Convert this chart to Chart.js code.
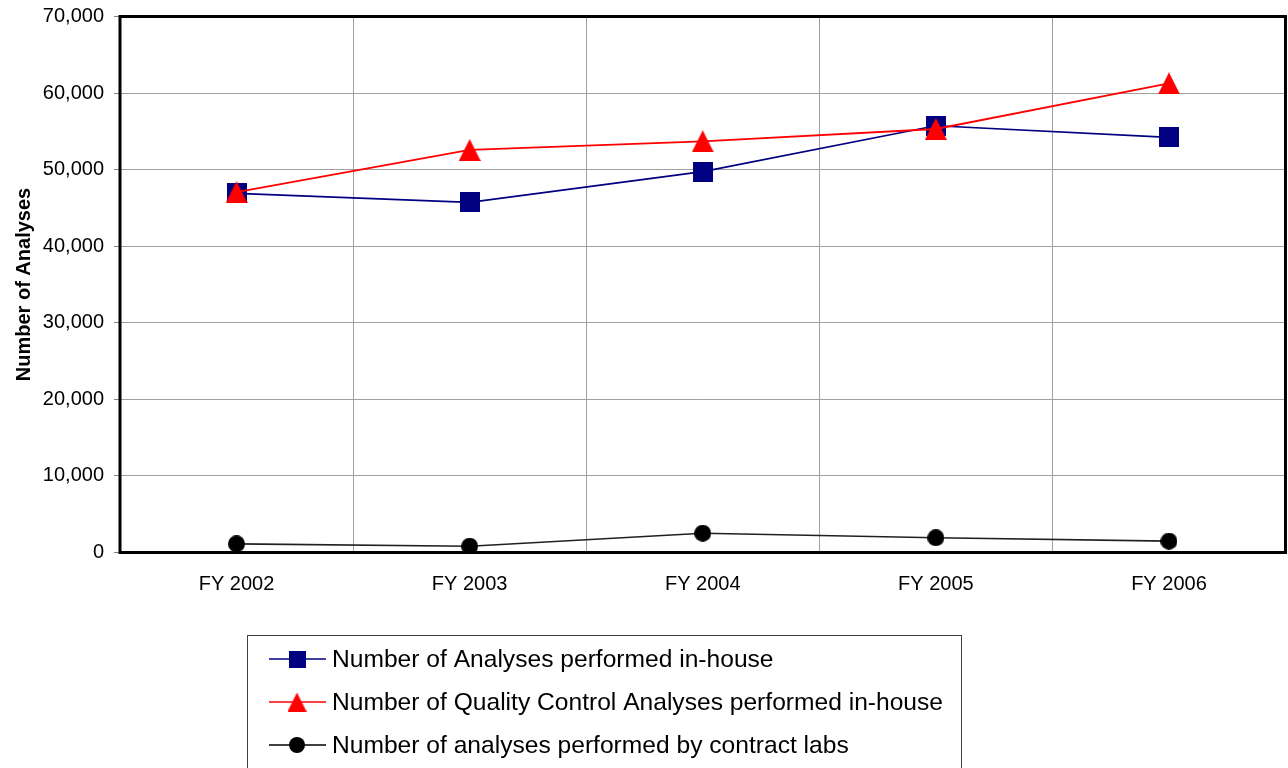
<!DOCTYPE html>
<html>
<head>
<meta charset="utf-8">
<script src="https://cdn.jsdelivr.net/npm/chart.js@4/dist/chart.umd.min.js"></script>
<style>
  html, body { margin: 0; padding: 0; background: #fff; overflow: hidden; }
  #wrap { width: 1288px; height: 768px; }
  canvas { display: block; }
</style>
</head>
<body>
<div id="wrap"><canvas id="c" width="1288" height="768"></canvas></div>
<script>
const categories = ['FY 2002', 'FY 2003', 'FY 2004', 'FY 2005', 'FY 2006'];
const inHouse = [46900, 45730, 49740, 55740, 54220];
const qcInHouse = [47050, 52570, 53700, 55310, 61270];
const contractLabs = [1130, 820, 2520, 1920, 1480];
const seriesNames = [
  'Number of Analyses performed in-house',
  'Number of Quality Control Analyses performed in-house',
  'Number of analyses performed by contract labs'
];
const yTicks = [0, 10000, 20000, 30000, 40000, 50000, 60000, 70000];
const yTitle = 'Number of Analyses';

function makeMarker(kind, size, color) {
  const c = document.createElement('canvas');
  c.width = size; c.height = size;
  const g = c.getContext('2d');
  g.fillStyle = color;
  if (kind === 'square') {
    g.fillRect(0, 0, size, size);
  } else if (kind === 'triangle') {
    g.beginPath();
    g.moveTo(size / 2, 0);
    g.lineTo(size, size);
    g.lineTo(0, size);
    g.closePath();
    g.fill();
  } else {
    g.beginPath();
    g.arc(size / 2, size / 2, size / 2, 0, Math.PI * 2);
    g.fill();
  }
  return c;
}

const BLUE = '#000080', RED = '#FF0000', BLACK = '#000000';
const mSquare = makeMarker('square', 20, BLUE);
const mTri = makeMarker('triangle', 22, RED);
const mCircle = makeMarker('circle', 17, BLACK);
const lSquare = makeMarker('square', 17, BLUE);
const lTri = makeMarker('triangle', 19, RED);
const lCircle = makeMarker('circle', 16, BLACK);

const frame = {
  id: 'frame',
  beforeDatasetsDraw(chart) {
    const {ctx, chartArea: a} = chart;
    ctx.save();
    ctx.strokeStyle = '#000';
    ctx.lineWidth = 3;
    ctx.strokeRect(a.left, a.top, a.right - a.left, a.bottom - a.top);
    ctx.restore();
  }
};

const legendBox = {
  id: 'legendBox',
  afterDraw(chart) {
    const ctx = chart.ctx;
    ctx.save();
    ctx.strokeStyle = '#404040';
    ctx.lineWidth = 1;
    ctx.strokeRect(247.5, 635.5, 714, 200);
    const rows = [
      {y: 659, color: BLUE, img: lSquare, w: 1.5},
      {y: 702, color: RED, img: lTri, w: 1.5},
      {y: 745, color: BLACK, img: lCircle, w: 1.5}
    ];
    ctx.font = '24.6px "Liberation Sans", Arial, sans-serif';
    ctx.textBaseline = 'middle';
    ctx.textAlign = 'left';
    rows.forEach((r, i) => {
      ctx.strokeStyle = r.color;
      ctx.lineWidth = r.w;
      ctx.beginPath();
      ctx.moveTo(269, r.y);
      ctx.lineTo(326, r.y);
      ctx.stroke();
      ctx.drawImage(r.img, 297 - r.img.width / 2, r.y - r.img.height / 2);
      ctx.fillStyle = '#000';
      ctx.fillText(seriesNames[i], 332, r.y + 1);
    });
    ctx.restore();
  }
};

new Chart(document.getElementById('c'), {
  type: 'line',
  data: {
    labels: categories,
    datasets: [
      {label: seriesNames[0], data: inHouse, borderColor: BLUE, borderWidth: 1.6,
       pointStyle: mSquare, order: 1, tension: 0},
      {label: seriesNames[1], data: qcInHouse, borderColor: RED, borderWidth: 1.8,
       pointStyle: mTri, order: 0, tension: 0},
      {label: seriesNames[2], data: contractLabs, borderColor: '#202020', borderWidth: 1.6,
       pointStyle: mCircle, order: 2, tension: 0}
    ]
  },
  options: {
    responsive: false,
    animation: false,
    devicePixelRatio: 1,
    layout: {autoPadding: false, padding: {top: 16.5, right: 2.5, bottom: 0, left: 0}},
    plugins: {legend: {display: false}, tooltip: {enabled: false}},
    scales: {
      x: {
        offset: true,
        grid: {offset: true, color: '#A0A0A0', lineWidth: 1, drawTicks: false},
        border: {display: false},
        ticks: {color: '#000', padding: 20, font: {family: '"Liberation Sans", Arial, sans-serif', size: 20}, maxRotation: 0},
        afterFit(s) { s.height = 215.5; s.paddingLeft = 0; s.paddingRight = 0; }
      },
      y: {
        min: 0, max: 70000,
        afterBuildTicks(s) { s.ticks = yTicks.map(v => ({value: v})); },
        grid: {color: '#A0A0A0', lineWidth: 1, tickLength: 6, tickColor: '#808080'},
        border: {display: false},
        ticks: {color: '#000', padding: 10, font: {family: '"Liberation Sans", Arial, sans-serif', size: 20},
                callback: v => v.toLocaleString('en-US')},
        title: {display: true, text: yTitle, color: '#000', padding: {top: 12, bottom: 0},
                font: {family: '"Liberation Sans", Arial, sans-serif', size: 20, weight: 'bold'}},
        afterFit(s) { s.width = 120; s.paddingTop = 0; s.paddingBottom = 0; s.paddingRight = 0; s.paddingLeft = 0; }
      }
    }
  },
  plugins: [frame, legendBox]
});
</script>
</body>
</html>
